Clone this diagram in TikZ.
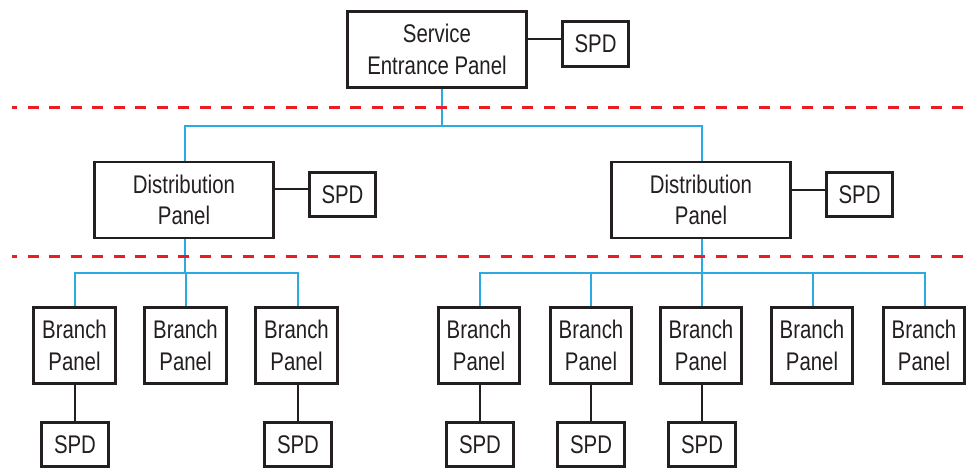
\documentclass[tikz,border=0pt]{standalone}
\usepackage{fontspec}
\setmainfont{Liberation Sans}[FakeStretch=0.8]
\definecolor{ink}{HTML}{231F20}
\definecolor{busblue}{HTML}{29ABE2}
\definecolor{dashred}{HTML}{ED1C24}
\begin{document}
\begin{tikzpicture}[x=1pt,y=-1pt,
  box/.style={draw=ink, line width=2.8pt, fill=white, inner sep=0pt, align=center,
    text=ink, font=\fontsize{25.5}{31.5}\selectfont},
  bigbox/.style={box, minimum width=179.5pt, minimum height=76pt},
  branchbox/.style={box, minimum width=81.5pt, minimum height=76.5pt},
  spdbox/.style={box, minimum width=66.5pt, minimum height=44.5pt},
  bus/.style={draw=busblue, line width=2.7pt},
  wire/.style={draw=ink, line width=2.6pt},
  reddash/.style={draw=dashred, line width=3pt, dash pattern=on 11pt off 10.5pt, dash phase=6pt}]
\useasboundingbox (0,0) rectangle (968,469);

% top level
\node[bigbox] (sep) at (437,49.5) {Service\\Entrance Panel};
\node[spdbox, minimum height=45.5pt] (spd0) at (595.5,44) {SPD};

% distribution level
\node[bigbox] (dpL) at (184,200) {Distribution\\Panel};
\node[spdbox] (spdL) at (342.5,194.5) {SPD};
\node[bigbox] (dpR) at (701,200) {Distribution\\Panel};
\node[spdbox] (spdR) at (859.5,194.5) {SPD};

% branch level
\node[branchbox] (b1) at (74.5,345.5) {Branch\\Panel};
\node[branchbox] (b2) at (185.5,345.5) {Branch\\Panel};
\node[branchbox] (b3) at (296.5,345.5) {Branch\\Panel};
\node[branchbox] (b4) at (479,345.5) {Branch\\Panel};
\node[branchbox] (b5) at (591,345.5) {Branch\\Panel};
\node[branchbox] (b6) at (701,345.5) {Branch\\Panel};
\node[branchbox] (b7) at (812,345.5) {Branch\\Panel};
\node[branchbox] (b8) at (924,345.5) {Branch\\Panel};

\node[spdbox] (s1) at (75,444.5) {SPD};
\node[spdbox] (s3) at (298,444.5) {SPD};
\node[spdbox] (s4) at (480,444.5) {SPD};
\node[spdbox] (s5) at (591,444.5) {SPD};
\node[spdbox] (s6) at (702,444.5) {SPD};

% bus coordinates
\coordinate (busA) at (442,126);
\coordinate (busB) at (185,273);
\coordinate (busC) at (702,273);

% blue feeders
\draw[bus] ([xshift=5pt]sep.south) -- (busA);
\draw[bus] ([xshift=1pt]dpL.north) -- ([xshift=1pt]dpL.north |- busA) -- ([xshift=1pt]dpR.north |- busA) -- ([xshift=1pt]dpR.north);
\draw[bus] ([xshift=1pt]dpL.south) -- (busB);
\draw[bus] ([xshift=0.5pt]b1.north) -- ([xshift=0.5pt]b1.north |- busB) -- ([xshift=1.5pt]b3.north |- busB) -- ([xshift=1.5pt]b3.north);
\draw[bus] ([xshift=0.5pt]b2.north) -- ([xshift=0.5pt]b2.north |- busB);
\draw[bus] ([xshift=1pt]dpR.south) -- (busC);
\draw[bus] ([xshift=1pt]b4.north) -- ([xshift=1pt]b4.north |- busC) -- ([xshift=1pt]b8.north |- busC) -- ([xshift=1pt]b8.north);
\draw[bus] (b5.north) -- (b5.north |- busC);
\draw[bus] ([xshift=1pt]b6.north) -- ([xshift=1pt]b6.north |- busC);
\draw[bus] ([xshift=1pt]b7.north) -- ([xshift=1pt]b7.north |- busC);

% black wires to SPDs
\draw[wire] (sep.east |- 0,39) -- (spd0.west |- 0,39);
\draw[wire] (dpL.east |- 0,189) -- (spdL.west |- 0,189);
\draw[wire] (dpR.east |- 0,190) -- (spdR.west |- 0,190);
\draw[wire] ([xshift=0.5pt]b1.south) -- ([xshift=0.5pt]b1.south |- s1.north);
\draw[wire] ([xshift=1.5pt]b3.south) -- ([xshift=1.5pt]b3.south |- s3.north);
\draw[wire] ([xshift=1pt]b4.south) -- (s4.north);
\draw[wire] (b5.south) -- (s5.north);
\draw[wire] ([xshift=1pt]b6.south) -- (s6.north);

% red dashed level separators
\coordinate (r1a) at (12,107); \coordinate (r1b) at (968,107);
\coordinate (r2a) at (12,256); \coordinate (r2b) at (968,256);
\draw[reddash] (r1a) -- (r1b);
\draw[reddash] (r2a) -- (r2b);
\end{tikzpicture}
\end{document}
